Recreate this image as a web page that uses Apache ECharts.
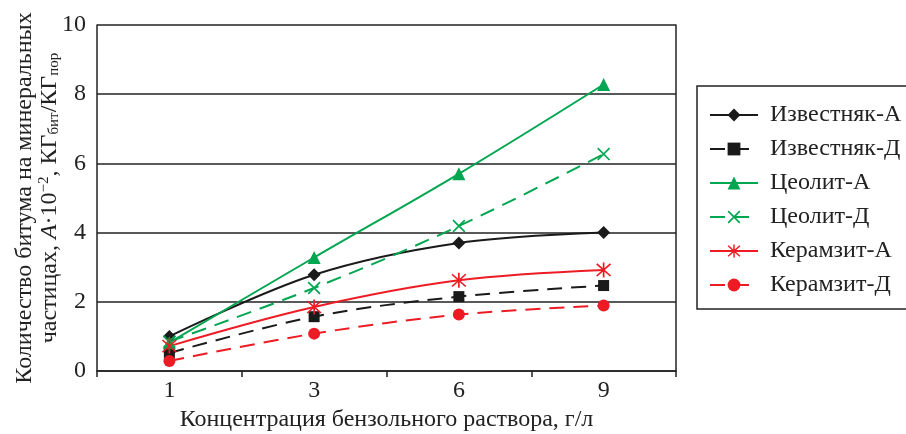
<!DOCTYPE html>
<html>
<head>
<meta charset="utf-8">
<script src="https://cdn.jsdelivr.net/npm/echarts@6/dist/echarts.min.js"></script>
<style>
html,body{margin:0;padding:0;background:#fff;}
#chart{width:906px;height:434px;}
</style>
</head>
<body>
<div id="chart"></div>
<script>
const categories = ['1', '3', '6', '9'];
const izvestnyakA = [1.0, 2.78, 3.7, 4.0];
const izvestnyakD = [0.52, 1.57, 2.15, 2.47];
const tseolitA = [0.82, 3.28, 5.7, 8.28];
const tseolitD = [0.85, 2.4, 4.19, 6.27];
const keramzitA = [0.72, 1.85, 2.62, 2.92];
const keramzitD = [0.29, 1.08, 1.63, 1.89];
const seriesNames = ['Известняк-А', 'Известняк-Д', 'Цеолит-А', 'Цеолит-Д', 'Керамзит-А', 'Керамзит-Д'];

const FONT = "'Liberation Serif', 'Times New Roman', serif";
const BLACK = '#1a1a1a', GREEN = '#00a650', RED = '#ed1c24';
const crossPath = 'path://M0,9 L9,0 L100,91 L91,100 Z M91,0 L100,9 L9,100 L0,91 Z';
const starPath = 'path://M45,0 L55,0 L55,100 L45,100 Z M6,13 L13,6 L94,87 L87,94 Z M87,6 L94,13 L13,94 L6,87 Z';

function mk(name, data, color, dashed, symbol, size) {
  return {
    name: name, type: 'line', data: data, smooth: 0.35,
    symbol: symbol, symbolSize: size, showAllSymbol: true,
    lineStyle: {color: color, width: 2, type: dashed ? [15, 9] : 'solid'},
    itemStyle: {color: color},
    z: 3
  };
}

const chart = echarts.init(document.getElementById('chart'));
chart.setOption({
  animation: false,
  backgroundColor: '#fff',
  textStyle: {fontFamily: FONT},
  grid: {left: 97, right: 230, top: 25, bottom: 63, containLabel: false, outerBoundsMode: 'none'},
  legend: {
    orient: 'vertical', left: 697, top: 86,
    itemWidth: 48, itemHeight: 16, itemGap: 10,
    padding: [17, 20, 12, 12],
    borderColor: '#222', borderWidth: 1.5, borderRadius: 0,
    textStyle: {fontFamily: FONT, fontSize: 24, lineHeight: 24, color: '#222', padding: [0, 0, 0, 7]},
    data: seriesNames
  },
  xAxis: {
    type: 'category', data: categories, boundaryGap: true,
    axisLine: {lineStyle: {color: '#222', width: 1.5}},
    axisTick: {show: true, length: 6, lineStyle: {color: '#222', width: 1.5}},
    axisLabel: {fontFamily: FONT, fontSize: 24, color: '#222', margin: 8},
    name: 'Концентрация бензольного раствора, г/л',
    nameLocation: 'middle', nameGap: 37,
    nameTextStyle: {fontFamily: FONT, fontSize: 24, color: '#222'}
  },
  yAxis: [{
    type: 'value', min: 0, max: 10, interval: 2,
    axisLine: {show: true, lineStyle: {color: '#222', width: 1.5}},
    axisTick: {show: false},
    splitLine: {show: true, lineStyle: {color: '#222', width: 1.5}},
    axisLabel: {fontFamily: FONT, fontSize: 24, color: '#222', margin: 11},
    name: '{a|Количество битума на минеральных}\n{a|частицах, }{i|A}{a|·10}{p|−2}{a|, КГ}{s|бит}{a|/КГ}{s|пор}',
    nameLocation: 'middle', nameGap: 35, nameRotate: 90, nameMoveOverlap: false,
    nameTextStyle: {
      fontFamily: FONT, fontSize: 24, color: '#222',
      rich: {
        a: {fontFamily: FONT, fontSize: 24, color: '#222', lineHeight: 25},
        i: {fontFamily: FONT, fontSize: 24, color: '#222', fontStyle: 'italic', lineHeight: 25},
        s: {fontFamily: FONT, fontSize: 15, color: '#222', lineHeight: 14, verticalAlign: 'bottom'},
        p: {fontFamily: FONT, fontSize: 15, color: '#222', lineHeight: 14, verticalAlign: 'top'}
      }
    }
  }, {
    type: 'value', min: 0, max: 10, interval: 2, position: 'right',
    axisLine: {show: true, lineStyle: {color: '#222', width: 1.5}},
    axisTick: {show: false}, axisLabel: {show: false}, splitLine: {show: false}
  }],
  series: [
    mk(seriesNames[0], izvestnyakA, BLACK, false, 'diamond', 13),
    mk(seriesNames[1], izvestnyakD, BLACK, true, 'rect', 11),
    mk(seriesNames[2], tseolitA, GREEN, false, 'triangle', 13),
    mk(seriesNames[3], tseolitD, GREEN, true, crossPath, 13),
    mk(seriesNames[4], keramzitA, RED, false, starPath, 15),
    mk(seriesNames[5], keramzitD, RED, true, 'circle', 12)
  ]
});
</script>
</body>
</html>
